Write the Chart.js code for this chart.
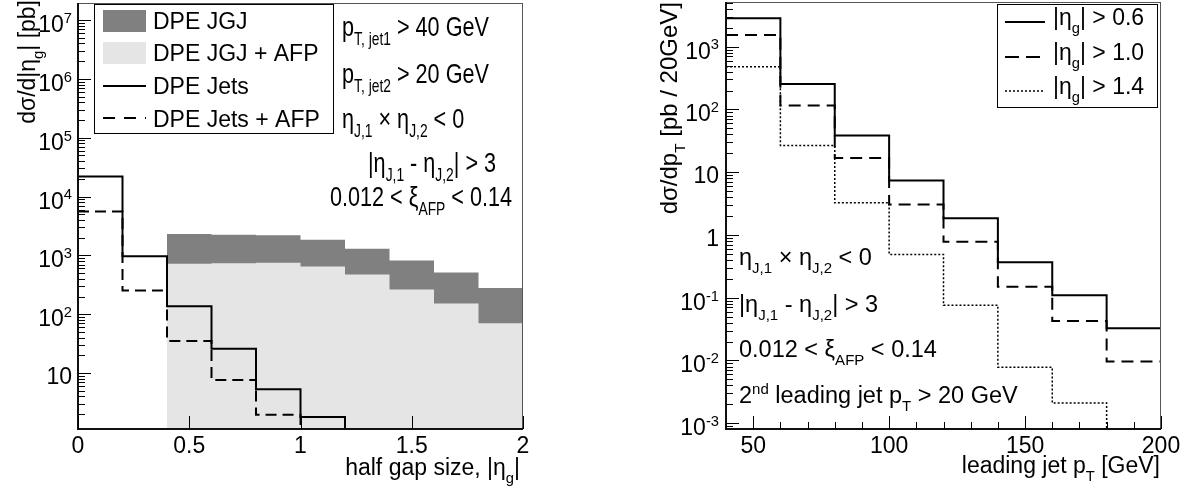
<!DOCTYPE html>
<html>
<head>
<meta charset="utf-8">
<script src="https://cdn.jsdelivr.net/npm/chart.js@4/dist/chart.umd.min.js"></script>
<style>
  body { margin: 0; background: #fff; width: 1192px; height: 490px; overflow: hidden; }
  canvas { position: absolute; top: 0; }
  #gapChart { left: 0; }
  #ptChart { left: 596px; }
</style>
</head>
<body>
<canvas id="gapChart" width="596" height="490"></canvas>
<canvas id="ptChart" width="596" height="490"></canvas>
<script>
/* ===============================
   DATA - left panel (half gap size)
================================= */

const gapEdges = [0, 0.2, 0.4, 0.6, 0.8, 1.0, 1.2, 1.4, 1.6, 1.8, 2.0];
// null = below the visible axis range
const dpeJgj     = [null, null, 2300, 2250, 2200, 1850, 1300, 820, 510, 280];
const dpeJgjAfp  = [null, null, 720, 735, 750, 650, 475, 264, 152, 70];
const dpeJets    = [22000, 970, 137, 26, 5.3, 1.8, null, null, null, null];
const dpeJetsAfp = [5600, 254, 35, 7.6, 1.95, null, null, null, null, null];

const gapXTicks = [0, 0.5, 1, 1.5, 2];
const gapXLabels = ["0", "0.5", "1", "1.5", "2"];
const gapYTicks = [10, 1e2, 1e3, 1e4, 1e5, 1e6, 1e7];
const gapYLabels = ["10", "10^{2}", "10^{3}", "10^{4}", "10^{5}", "10^{6}", "10^{7}"];

/* ===============================
   DATA - right panel (leading jet pT)
================================= */

const ptEdges = [40, 60, 80, 100, 120, 140, 160, 180, 200];
const gapAbove06 = [2830, 255, 38.5, 7.4, 1.85, 0.367, 0.11, 0.0326];
const gapAbove10 = [1530, 116, 16.9, 3.06, 0.78, 0.15, 0.0425, 0.0096];
const gapAbove14 = [480, 26.7, 3.25, 0.49, 0.076, 0.0078, 0.0021, null];

const ptXTicks = [50, 100, 150, 200];
const ptXLabels = ["50", "100", "150", "200"];
const ptYTicks = [1e-3, 1e-2, 1e-1, 1, 10, 1e2, 1e3];
const ptYLabels = ["10^{-3}", "10^{-2}", "10^{-1}", "1", "10", "10^{2}", "10^{3}"];

const FONT = '"Liberation Sans", Arial, Helvetica, sans-serif';

/* ===============================
   TEXT WITH SUB / SUPERSCRIPTS
================================= */

function parseRich(str) {
  const parts = [];
  const re = /([_^])\{([^}]*)\}/g;
  let last = 0, m;
  while ((m = re.exec(str))) {
    if (m.index > last) parts.push({ t: str.slice(last, m.index), k: "" });
    parts.push({ t: m[2], k: m[1] });
    last = re.lastIndex;
  }
  if (last < str.length) parts.push({ t: str.slice(last), k: "" });
  return parts;
}

function drawRich(ctx, str, x, y, size, align, sx, sy) {
  const parts = parseRich(str);
  const small = size * 0.64;
  const fontOf = k => (k ? small : size) + "px " + FONT;
  let w = 0;
  parts.forEach(p => {
    ctx.font = fontOf(p.k);
    p.w = ctx.measureText(p.t).width;
    w += p.w;
  });
  ctx.save();
  ctx.translate(x, y);
  ctx.scale(sx || 1, sy || 1);
  ctx.textAlign = "left";
  ctx.textBaseline = "alphabetic";
  ctx.fillStyle = "#000";
  let cx = align === "right" ? -w : align === "center" ? -w / 2 : 0;
  parts.forEach(p => {
    ctx.font = fontOf(p.k);
    const dy = p.k === "_" ? size * 0.33 : p.k === "^" ? -size * 0.4 : 0;
    ctx.fillText(p.t, cx, dy);
    cx += p.w;
  });
  ctx.restore();
}

/* ===============================
   HISTOGRAM -> STEP POINTS
================================= */

function histPoints(edges, values, floor) {
  const pts = values.map((v, i) => ({ x: edges[i], y: v == null ? floor : v }));
  pts.push({ x: edges[edges.length - 1], y: pts[pts.length - 1].y });
  return pts;
}

/* ===============================
   ROOT-LIKE FRAME, TICKS, TEXT
================================= */

function makeRootPlugin(cfg) {
  return {
    id: "rootStyle",
    afterDraw(chart) {
      const { ctx, chartArea: a, scales } = chart;
      const xs = scales.x, ys = scales.y;
      const seg = (x1, y1, x2, y2) => {
        ctx.beginPath(); ctx.moveTo(x1, y1); ctx.lineTo(x2, y2); ctx.stroke();
      };
      ctx.save();

      // frame
      ctx.strokeStyle = "#555";
      ctx.lineWidth = 1;
      ctx.strokeRect(a.left + 0.5, a.top + 0.5, a.right - a.left - 1, a.bottom - a.top - 1);
      ctx.strokeStyle = "#111";
      ctx.lineWidth = 2;
      seg(a.left, a.top, a.left, a.bottom + 1);
      seg(a.left - 1, a.bottom, a.right, a.bottom);

      // y ticks (log): decades long, 2..9 short
      ctx.lineWidth = 1;
      ctx.strokeStyle = "#000";
      const lo = Math.floor(Math.log10(ys.min)), hi = Math.ceil(Math.log10(ys.max));
      for (let e = lo; e <= hi; e++) {
        for (let m = 1; m <= 9; m++) {
          const v = m * Math.pow(10, e);
          if (v < ys.min || v > ys.max) continue;
          const py = Math.round(ys.getPixelForValue(v)) + 0.5;
          seg(a.left, py, a.left + (m === 1 ? 13 : 7), py);
        }
      }
      // x ticks
      cfg.xTicks.forEach(v => {
        const px = Math.round(xs.getPixelForValue(v)) + 0.5;
        seg(px, a.bottom, px, a.bottom - 13);
      });
      (cfg.xMinor || []).forEach(v => {
        const px = Math.round(xs.getPixelForValue(v)) + 0.5;
        seg(px, a.bottom, px, a.bottom - 7);
      });

      // tick labels
      cfg.yTicks.forEach((v, i) => {
        const lab = cfg.yLabels[i];
        const py = ys.getPixelForValue(v);
        drawRich(ctx, lab, cfg.yLabelRight, py + (lab.includes("^") ? 12 : 11), 23, "right");
      });
      cfg.xTicks.forEach((v, i) => {
        drawRich(ctx, cfg.xLabels[i], xs.getPixelForValue(v), 453, 23, "center");
      });

      // axis titles
      drawRich(ctx, cfg.xTitle, cfg.xTitleRight, cfg.xTitleBaseline, 23, "right");
      ctx.save();
      ctx.translate(cfg.yTitleX, cfg.yTitleEnd);
      ctx.rotate(-Math.PI / 2);
      drawRich(ctx, cfg.yTitle, 0, 0, cfg.yTitleSize || 23, "right");
      ctx.restore();

      // legend
      const L = cfg.legend;
      ctx.fillStyle = "#fff";
      ctx.fillRect(L.box[0], L.box[1], L.box[2] - L.box[0], L.box[3] - L.box[1]);
      ctx.strokeStyle = "#000";
      ctx.lineWidth = 1;
      ctx.strokeRect(L.box[0] + 0.5, L.box[1] + 0.5, L.box[2] - L.box[0] - 1, L.box[3] - L.box[1] - 1);
      chart.data.datasets.forEach((ds, i) => {
        const row = L.rows[i];
        if (ds.fill) {
          ctx.fillStyle = ds.backgroundColor;
          ctx.fillRect(L.sym[0], row.sym - 11, L.sym[1] - L.sym[0], 22);
        } else {
          ctx.strokeStyle = "#000";
          ctx.lineWidth = ds.borderWidth;
          ctx.setLineDash(ds.legendDash || ds.borderDash || []);
          seg(L.sym[0], row.sym, L.sym[1], row.sym);
          ctx.setLineDash([]);
        }
        drawRich(ctx, ds.label, L.textX, row.base, 23, "left");
      });

      // cut annotations
      cfg.notes.forEach(n =>
        drawRich(ctx, n.text, n.x, n.y, cfg.noteSize, "left", cfg.noteSx || 1, cfg.noteSy || 1));

      ctx.restore();
    }
  };
}

/* ===============================
   COMMON OPTIONS
================================= */

function baseOptions(xMin, xMax, yMin, yMax, yWidth, pad) {
  return {
    responsive: false,
    animation: false,
    layout: { padding: pad },
    plugins: { legend: { display: false }, tooltip: { enabled: false } },
    elements: { point: { radius: 0 }, line: { tension: 0 } },
    scales: {
      x: {
        type: "linear", min: xMin, max: xMax,
        ticks: { display: false }, grid: { display: false }, border: { display: false },
        afterFit(s) { s.height = 61; }
      },
      y: {
        type: "logarithmic", min: yMin, max: yMax,
        ticks: { display: false }, grid: { display: false }, border: { display: false },
        afterFit(s) { s.width = yWidth; }
      }
    }
  };
}

/* ===============================
   LEFT CHART
================================= */

const gapYMin = 1.12, gapYMax = 1.95e7;
const gapFloor = gapYMin / 3;

new Chart(document.getElementById("gapChart"), {
  type: "line",
  data: {
    datasets: [
      {
        label: "DPE JGJ", data: histPoints(gapEdges, dpeJgj, gapFloor),
        stepped: true, fill: "start", backgroundColor: "#808080",
        borderColor: "rgba(0,0,0,0)", borderWidth: 1, order: 3
      },
      {
        label: "DPE JGJ + AFP", data: histPoints(gapEdges, dpeJgjAfp, gapFloor),
        stepped: true, fill: "start", backgroundColor: "#e5e5e5",
        borderColor: "rgba(0,0,0,0)", borderWidth: 1, order: 2
      },
      {
        label: "DPE Jets", data: histPoints(gapEdges, dpeJets, gapFloor),
        stepped: true, fill: false, borderColor: "#000", borderWidth: 2, order: 0
      },
      {
        label: "DPE Jets + AFP", data: histPoints(gapEdges, dpeJetsAfp, gapFloor),
        stepped: true, fill: false, borderColor: "#000", borderWidth: 2,
        borderDash: [11, 6], legendDash: [12, 9], order: 1
      }
    ]
  },
  options: baseOptions(0, 2, gapYMin, gapYMax, 78, { top: 3, right: 73, left: 0, bottom: 0 }),
  plugins: [makeRootPlugin({
    xTicks: gapXTicks, xLabels: gapXLabels, xMinor: [],
    yTicks: gapYTicks, yLabels: gapYLabels, yLabelRight: 72,
    xTitle: "half gap size, |η_{g}|", xTitleRight: 520, xTitleBaseline: 475,
    yTitle: "dσ/d|η_{g}| [pb]", yTitleX: 35, yTitleEnd: 0,
    legend: {
      box: [94, 4, 334, 134], sym: [103, 146], textX: 153,
      rows: [{ sym: 21, base: 29 }, { sym: 53, base: 61 }, { sym: 86, base: 94 }, { sym: 118, base: 127 }]
    },
    noteSize: 23, noteSx: 0.94, noteSy: 1.2,
    notes: [
      { text: "p_{T, jet1} > 40 GeV", x: 342, y: 36 },
      { text: "p_{T, jet2} > 20 GeV", x: 342, y: 83 },
      { text: "η_{J,1} × η_{J,2} < 0", x: 342, y: 128 },
      { text: "|η_{J,1} - η_{J,2}| > 3", x: 368, y: 172 },
      { text: "0.012 < ξ_{AFP} < 0.14", x: 330, y: 206 }
    ]
  })]
});

/* ===============================
   RIGHT CHART
================================= */

const ptYMin = 8.1e-4, ptYMax = 5.15e3;
const ptFloor = ptYMin / 3;
const ptMinor = [];
for (let v = 40; v <= 200; v += 10) if (!ptXTicks.includes(v)) ptMinor.push(v);

new Chart(document.getElementById("ptChart"), {
  type: "line",
  data: {
    datasets: [
      {
        label: "|η_{g}| > 0.6", data: histPoints(ptEdges, gapAbove06, ptFloor),
        stepped: true, fill: false, borderColor: "#000", borderWidth: 2
      },
      {
        label: "|η_{g}| > 1.0", data: histPoints(ptEdges, gapAbove10, ptFloor),
        stepped: true, fill: false, borderColor: "#000", borderWidth: 2,
        borderDash: [12, 7], legendDash: [14, 7]
      },
      {
        label: "|η_{g}| > 1.4", data: histPoints(ptEdges, gapAbove14, ptFloor),
        stepped: true, fill: false, borderColor: "#000", borderWidth: 1.5,
        borderDash: [2, 2]
      }
    ]
  },
  options: baseOptions(40, 200, ptYMin, ptYMax, 130, { top: 2, right: 31, left: 0, bottom: 0 }),
  plugins: [makeRootPlugin({
    xTicks: ptXTicks, xLabels: ptXLabels, xMinor: ptMinor,
    yTicks: ptYTicks, yLabels: ptYLabels, yLabelRight: 123,
    xTitle: "leading jet p_{T} [GeV]", xTitleRight: 564, xTitleBaseline: 473,
    yTitle: "dσ/dp_{T} [pb / 20GeV]", yTitleX: 81, yTitleEnd: 2, yTitleSize: 24,
    legend: {
      box: [401, 4, 562, 108], sym: [409, 449], textX: 457,
      rows: [{ sym: 22, base: 25 }, { sym: 57, base: 60 }, { sym: 91, base: 94 }]
    },
    noteSize: 23.5,
    notes: [
      { text: "η_{J,1} × η_{J,2} < 0", x: 143, y: 265 },
      { text: "|η_{J,1} - η_{J,2}| > 3", x: 143, y: 312 },
      { text: "0.012 < ξ_{AFP} < 0.14", x: 143, y: 357 },
      { text: "2^{nd} leading jet p_{T} > 20 GeV", x: 143, y: 403 }
    ]
  })]
});
</script>
</body>
</html>
